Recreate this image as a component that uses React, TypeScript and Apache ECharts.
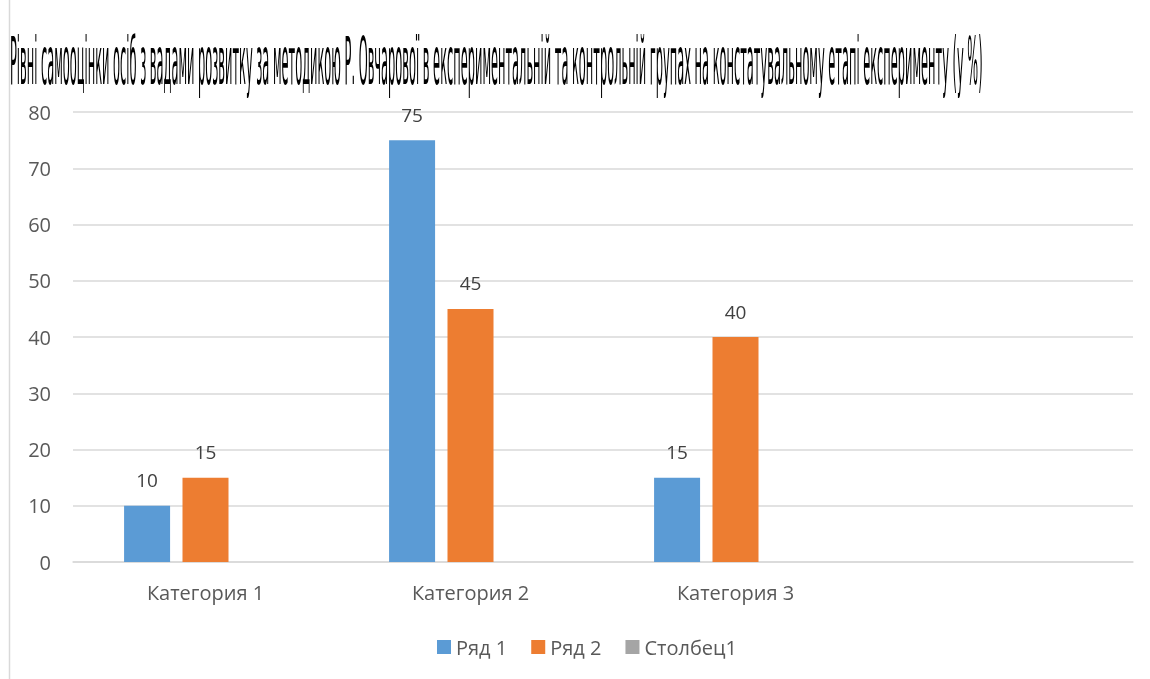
import React, { useEffect, useRef } from "react";
import * as echarts from "echarts";

// Chart data
const categories = ["Категория 1", "Категория 2", "Категория 3", ""];
const seriesNames = ["Ряд 1", "Ряд 2", "Столбец1"];
const row1: (number | null)[] = [10, 75, 15, null];
const row2: (number | null)[] = [15, 45, 40, null];
const column1: (number | null)[] = [null, null, null, null];
const yTicks = { min: 0, max: 80, interval: 10 };

const titleText =
  "Рівні самооцінки осіб з вадами розвитку за методикою Р. Овчарової в експериментальній та контрольній групах на констатувальному етапі експерименту (у %)";

const W = 1150;
const H = 679;
const TITLE_FONT = '"Liberation Sans Narrow", "DejaVu Sans Condensed", "Liberation Sans", sans-serif';
const TITLE_SIZE = 66;
const TITLE_WIDTH = 975;
const UI_FONT = '"Open Sans", "Noto Sans", sans-serif';

function measureTitle(): number {
  const c = document.createElement("canvas");
  const ctx = c.getContext("2d");
  if (!ctx) return TITLE_WIDTH;
  ctx.font = `${TITLE_SIZE}px ${TITLE_FONT}`;
  return ctx.measureText(titleText).width || TITLE_WIDTH;
}

export default function App() {
  const ref = useRef<HTMLDivElement>(null);

  useEffect(() => {
    document.body.style.margin = "0";
    if (!ref.current) return;
    const chart = echarts.init(ref.current, undefined, { renderer: "svg" });
    const titleScale = TITLE_WIDTH / measureTitle();

    const label = {
      show: true,
      position: "top" as const,
      distance: 16,
      fontSize: 19,
      fontFamily: UI_FONT,
      color: "#404040",
    };

    chart.setOption({
      animation: false,
      backgroundColor: "#ffffff",
      graphic: [
        {
          type: "line",
          shape: { x1: 9.5, y1: 0, x2: 9.5, y2: H },
          style: { stroke: "#d9d9d9", lineWidth: 1.5 },
        },
        {
          type: "text",
          x: 10,
          y: 61,
          scaleX: titleScale,
          style: {
            x: 0,
            y: 0,
            text: titleText,
            fontSize: TITLE_SIZE,
            fontFamily: TITLE_FONT,
            fill: "#000000",
            align: "left",
            verticalAlign: "middle",
          },
        },
      ],
      legend: {
        data: seriesNames,
        left: 432,
        top: 632,
        icon: "rect",
        itemWidth: 14,
        itemHeight: 14,
        itemGap: 24,
        textStyle: { fontSize: 20, fontFamily: UI_FONT, color: "#595959" },
      },
      grid: { left: 73, right: 17, top: 112, bottom: 117, containLabel: false },
      xAxis: {
        type: "category",
        data: categories,
        axisLine: { lineStyle: { color: "#d9d9d9", width: 1.5 } },
        axisTick: { show: false },
        axisLabel: {
          fontSize: 20,
          fontFamily: UI_FONT,
          color: "#595959",
          margin: 20,
          interval: 0,
        },
      },
      yAxis: {
        type: "value",
        min: yTicks.min,
        max: yTicks.max,
        interval: yTicks.interval,
        axisLine: { show: false },
        axisTick: { show: false },
        splitLine: { lineStyle: { color: "#d9d9d9", width: 1.5 } },
        axisLabel: {
          fontSize: 20,
          fontFamily: UI_FONT,
          color: "#595959",
          margin: 22,
        },
      },
      series: [
        {
          name: seriesNames[0],
          type: "bar",
          data: row1,
          barWidth: 46,
          barGap: "27%",
          itemStyle: { color: "#5B9BD5" },
          label,
        },
        {
          name: seriesNames[1],
          type: "bar",
          data: row2,
          barWidth: 46,
          barGap: "27%",
          itemStyle: { color: "#ED7D31" },
          label,
        },
        {
          name: seriesNames[2],
          type: "bar",
          data: column1,
          barWidth: 46,
          barGap: "27%",
          itemStyle: { color: "#A5A5A5" },
          label,
        },
      ],
    });

    return () => chart.dispose();
  }, []);

  return <div ref={ref} style={{ width: W, height: H, willChange: "transform" }} />;
}
